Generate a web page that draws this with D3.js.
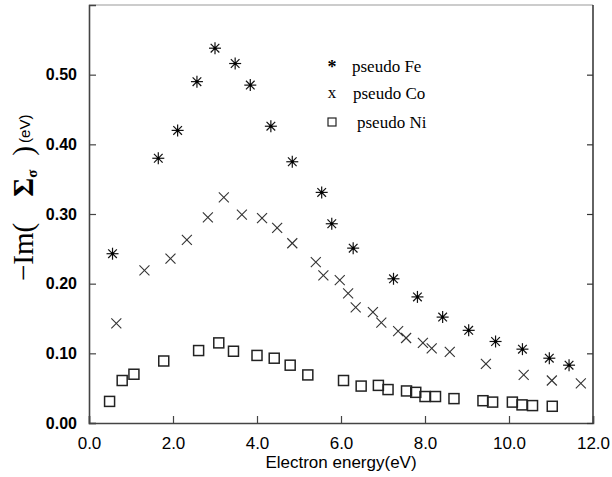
<!DOCTYPE html>
<html>
<head>
<meta charset="utf-8">
<script src="https://cdn.jsdelivr.net/npm/d3@7/dist/d3.min.js"></script>
<style>
  html, body { margin: 0; padding: 0; background: #fff; }
  svg { display: block; }
</style>
</head>
<body>
<svg id="chart" width="612" height="477"></svg>
<script>
// ---- data ----
const feX = [0.56, 1.65, 2.11, 2.57, 3.0, 3.48, 3.84, 4.33, 4.84, 5.54, 5.78, 6.29, 7.25, 7.82, 8.42, 9.04, 9.68, 10.32, 10.96, 11.43];
const feY = [0.243, 0.380, 0.420, 0.490, 0.538, 0.516, 0.485, 0.426, 0.375, 0.331, 0.286, 0.251, 0.207, 0.181, 0.152, 0.133, 0.117, 0.106, 0.093, 0.083];

const coX = [0.65, 1.32, 1.94, 2.33, 2.83, 3.21, 3.64, 4.12, 4.48, 4.84, 5.40, 5.58, 5.97, 6.17, 6.35, 6.76, 6.96, 7.36, 7.55, 7.95, 8.16, 8.59, 9.45, 10.35, 11.02, 11.71];
const coY = [0.143, 0.219, 0.236, 0.263, 0.295, 0.324, 0.299, 0.294, 0.280, 0.258, 0.231, 0.212, 0.205, 0.186, 0.166, 0.159, 0.144, 0.132, 0.122, 0.115, 0.107, 0.102, 0.085, 0.069, 0.061, 0.057];

const niX = [0.49, 0.79, 1.07, 1.78, 2.61, 3.09, 3.44, 4.0, 4.41, 4.79, 5.21, 6.06, 6.48, 6.89, 7.12, 7.56, 7.78, 8.0, 8.25, 8.69, 9.38, 9.61, 10.08, 10.31, 10.56, 11.03];
const niY = [0.031, 0.061, 0.070, 0.089, 0.104, 0.115, 0.103, 0.097, 0.093, 0.083, 0.069, 0.061, 0.053, 0.054, 0.048, 0.046, 0.044, 0.038, 0.038, 0.035, 0.032, 0.030, 0.030, 0.026, 0.025, 0.024];

const xTicks = [0, 2, 4, 6, 8, 10, 12];
const yTicks = [0, 0.1, 0.2, 0.3, 0.4, 0.5];
const legendLabels = ["pseudo Fe", "pseudo Co", "pseudo Ni"];
const xTitle = "Electron energy(eV)";

// ---- layout ----
const W = 612, H = 477;
const m = { left: 89, right: 19, top: 5, bottom: 54 };
const svg = d3.select("#chart");
const x = d3.scaleLinear().domain([0, 12]).range([m.left, W - m.right]);
const y = d3.scaleLinear().domain([0, 0.6]).range([H - m.bottom, m.top]);
const sans = "'Liberation Sans', Arial, Helvetica, sans-serif";
const serif = "'Liberation Serif', 'Times New Roman', serif";

// frame
svg.append("line").attr("x1", x(0)).attr("x2", x(12)).attr("y1", y(0.6)).attr("y2", y(0.6))
  .attr("stroke", "#999").attr("stroke-width", 1);
svg.append("line").attr("x1", x(12)).attr("x2", x(12)).attr("y1", y(0.6)).attr("y2", y(0))
  .attr("stroke", "#222").attr("stroke-width", 1.4);

// axes
const xAxis = d3.axisBottom(x).tickValues(xTicks).tickSize(-7).tickPadding(14).tickFormat(d3.format(".1f"));
const gx = svg.append("g").attr("transform", `translate(0,${y(0)})`).call(xAxis);
const yAxis = d3.axisLeft(y).tickValues(yTicks).tickSize(-7).tickPadding(12).tickFormat(d3.format(".2f"));
const gy = svg.append("g").attr("transform", `translate(${x(0)},0)`).call(yAxis);
const yAxisR = d3.axisRight(y).tickValues(yTicks).tickSize(-6).tickFormat("");
const gyr = svg.append("g").attr("transform", `translate(${x(12)},0)`).call(yAxisR);
gyr.select(".domain").remove();

[gx, gy].forEach(g => {
  g.select(".domain").attr("stroke", "#444").attr("stroke-width", 1.6);
  g.selectAll(".tick line").attr("stroke", "#444").attr("stroke-width", 1.2);
  g.selectAll(".tick text").attr("font-family", sans).attr("font-size", 16).attr("fill", "#000");
});
gy.selectAll(".tick text").attr("font-weight", "bold");
gx.selectAll(".tick text").attr("font-size", 17).attr("dy", "0.71em");
gyr.selectAll(".tick line").attr("stroke", "#333").attr("stroke-width", 1.2);

// x title
svg.append("text").attr("x", (x(0) + x(12)) / 2).attr("y", 468)
  .attr("text-anchor", "middle").attr("font-family", sans).attr("font-size", 17)
  .text(xTitle);

// y title
const yt = svg.append("text").attr("transform", "translate(33,281) rotate(-90)")
  .attr("font-family", serif).attr("font-size", 29).attr("fill", "#000");
yt.append("tspan").text("\u2212Im(");
yt.append("tspan").attr("dx", 26).attr("font-weight", "bold").text("\u03A3");
yt.append("tspan").attr("font-size", 15).attr("font-weight", "bold").attr("dy", 4).text("\u03C3");
yt.append("tspan").attr("dy", -4).attr("dx", 14).text(")");
yt.append("tspan").attr("font-family", sans).attr("font-size", 15).attr("dx", 3).attr("dy", -3).text("(eV)");

// markers
const star = svg.append("g");
feX.forEach((v, i) => {
  const cx = x(v), cy = y(feY[i]), r = 6, d = r * 0.72;
  const g = star.append("g").attr("transform", `translate(${cx},${cy})`)
    .attr("stroke", "#111").attr("stroke-width", 1.2);
  g.append("line").attr("x1", -r).attr("x2", r).attr("y1", 0).attr("y2", 0);
  g.append("line").attr("x1", 0).attr("x2", 0).attr("y1", -r).attr("y2", r);
  g.append("line").attr("x1", -d).attr("x2", d).attr("y1", -d).attr("y2", d);
  g.append("line").attr("x1", -d).attr("x2", d).attr("y1", d).attr("y2", -d);
  g.append("circle").attr("r", 1.6).attr("fill", "#000").attr("stroke", "none");
});

const cross = svg.append("g").attr("stroke", "#333").attr("stroke-width", 1.1);
coX.forEach((v, i) => {
  const cx = x(v), cy = y(coY[i]), h = 5;
  cross.append("line").attr("x1", cx - h).attr("x2", cx + h).attr("y1", cy - h).attr("y2", cy + h);
  cross.append("line").attr("x1", cx - h).attr("x2", cx + h).attr("y1", cy + h).attr("y2", cy - h);
});

const sq = svg.append("g").attr("stroke", "#222").attr("stroke-width", 1.5).attr("fill", "none");
niX.forEach((v, i) => {
  const s = 10;
  sq.append("rect").attr("x", x(v) - s / 2).attr("y", y(niY[i]) - s / 2).attr("width", s).attr("height", s);
});

// legend
const lg = svg.append("g").attr("font-family", serif).attr("font-size", 17).attr("fill", "#000");
lg.append("text").attr("x", 332).attr("y", 73).attr("text-anchor", "middle").attr("font-size", 18).attr("font-weight", "bold").text("*");
lg.append("text").attr("x", 352).attr("y", 72).text(legendLabels[0]);
lg.append("text").attr("x", 332).attr("y", 98).attr("text-anchor", "middle").attr("font-size", 17).text("x");
lg.append("text").attr("x", 353).attr("y", 99).text(legendLabels[1]);
lg.append("rect").attr("x", 328).attr("y", 118).attr("width", 8).attr("height", 8)
  .attr("fill", "none").attr("stroke", "#222").attr("stroke-width", 1.2);
lg.append("text").attr("x", 357).attr("y", 128).text(legendLabels[2]);
</script>
</body>
</html>
